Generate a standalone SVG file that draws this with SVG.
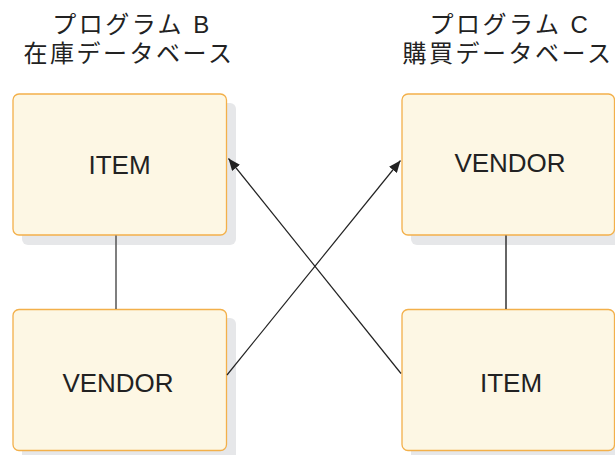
<svg xmlns="http://www.w3.org/2000/svg" width="615" height="455" viewBox="0 0 615 455">
<style>
.title{font-family:"Liberation Sans","Noto Sans CJK JP",sans-serif;font-size:24px;fill:#222;text-anchor:middle;letter-spacing:2.5px}
.shadow{fill:#e6e7e9}
.box{fill:#fdf7e4;stroke:#f3b04a;stroke-width:1.3}
.label{font-family:"Liberation Sans",Arial,sans-serif;font-size:26px;fill:#222;text-anchor:middle}
.link{stroke:#555;stroke-width:1.5;fill:none}
.arrow{stroke:#222;stroke-width:1.2;fill:none;marker-end:url(#ah)}
</style>
<defs>
<marker id="ah" viewBox="0 0 12 10" refX="12" refY="5" markerWidth="12" markerHeight="10" markerUnits="userSpaceOnUse" orient="auto">
<path d="M0,0 L12,5 L0,10 Z" fill="#222"/>
</marker>
</defs>
<g id="title-b">
<text class="title" x="132" y="33">プログラム B</text>
<text class="title" x="129" y="62">在庫データベース</text>
</g>
<g id="title-c">
<text class="title" x="510" y="33">プログラム C</text>
<text class="title" x="508" y="62">購買データベース</text>
</g>
<g id="node-b-item">
<rect class="shadow" x="22" y="103" width="214" height="142" rx="6"/>
<rect class="box" x="13" y="94" width="213.5" height="141" rx="6"/>
<text class="label" x="119.5" y="174">ITEM</text>
</g>
<g id="node-b-vendor">
<rect class="shadow" x="22" y="318" width="214" height="142" rx="6"/>
<rect class="box" x="13" y="309.5" width="213.5" height="141" rx="6"/>
<text class="label" x="118" y="392">VENDOR</text>
</g>
<g id="node-c-vendor">
<rect class="shadow" x="411" y="103" width="214" height="142" rx="6"/>
<rect class="box" x="402" y="94" width="212.5" height="141" rx="6"/>
<text class="label" x="510" y="172">VENDOR</text>
</g>
<g id="node-c-item">
<rect class="shadow" x="411" y="318" width="214" height="142" rx="6"/>
<rect class="box" x="402" y="309.5" width="212.5" height="141" rx="6"/>
<text class="label" x="511" y="392">ITEM</text>
</g>
<g id="connectors">
<line class="link" x1="116" y1="235.5" x2="116" y2="309"/>
<line class="link" x1="506" y1="235.5" x2="506" y2="309" style="stroke:#333"/>
<line class="arrow" x1="401" y1="373.5" x2="228.5" y2="158.5"/>
<line class="arrow" x1="227" y1="375" x2="400.5" y2="160.5"/>
</g>
</svg>
